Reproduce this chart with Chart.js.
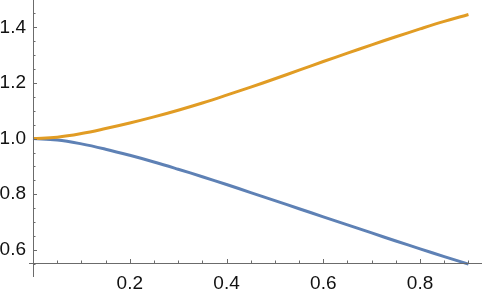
<!DOCTYPE html>
<html>
<head>
<meta charset="utf-8">
<script src="https://cdn.jsdelivr.net/npm/chart.js@4/dist/chart.umd.min.js"></script>
<style>
  html, body { margin: 0; padding: 0; background: #fff; }
  #wrap { width: 482px; height: 295px; }
</style>
</head>
<body>
<div id="wrap"><canvas id="myChart"></canvas></div>
<script>
var xValues = [0, 0.05, 0.1, 0.15, 0.2, 0.25, 0.3, 0.35, 0.4, 0.45, 0.5, 0.55, 0.6, 0.65, 0.7, 0.75, 0.8, 0.85, 0.9];
var upper = [1.000, 1.005, 1.018, 1.036, 1.056, 1.078, 1.102, 1.128, 1.156, 1.185, 1.215, 1.246, 1.277, 1.307, 1.337, 1.366, 1.394, 1.421, 1.446];
var lower = [1.000, 0.995, 0.981, 0.962, 0.940, 0.916, 0.890, 0.863, 0.835, 0.806, 0.777, 0.748, 0.719, 0.690, 0.661, 0.632, 0.604, 0.576, 0.549];
var xTicks = [0.2, 0.4, 0.6, 0.8];
var yTicks = [0.6, 0.8, 1.0, 1.2, 1.4];
var xMinor = [0.05, 0.1, 0.15, 0.25, 0.3, 0.35, 0.45, 0.5, 0.55, 0.65, 0.7, 0.75, 0.85, 0.9];
var yMinor = [0.55, 0.65, 0.7, 0.75, 0.85, 0.9, 0.95, 1.05, 1.1, 1.15, 1.25, 1.3, 1.35, 1.45];

function pts(ys) {
  return xValues.map(function (x, i) { return {x: x, y: ys[i]}; });
}

var axisColor = "#6b6b6b";

// mathematica style axes, ticks pointing inwards
var axesPlugin = {
  id: "axes",
  afterDatasetsDraw: function (chart) {
    var ctx = chart.ctx, xs = chart.scales.x, ys = chart.scales.y;
    var area = chart.chartArea;
    var x0 = xs.getPixelForValue(0), y0 = area.bottom;
    ctx.save();
    ctx.strokeStyle = axisColor;
    ctx.lineWidth = 1;
    ctx.beginPath();
    ctx.moveTo(x0 - 4, y0 + 0.5); ctx.lineTo(area.right, y0 + 0.5);
    ctx.moveTo(x0 + 0.5, area.top); ctx.lineTo(x0 + 0.5, y0 + 14);
    xTicks.forEach(function (v) { var p = Math.round(xs.getPixelForValue(v)) + 0.5; ctx.moveTo(p, y0); ctx.lineTo(p, y0 - 4); });
    xMinor.forEach(function (v) { var p = Math.round(xs.getPixelForValue(v)) + 0.5; ctx.moveTo(p, y0); ctx.lineTo(p, y0 - 2.5); });
    yTicks.forEach(function (v) { var p = Math.round(ys.getPixelForValue(v)) + 0.5; ctx.moveTo(x0, p); ctx.lineTo(x0 + 4, p); });
    yMinor.forEach(function (v) { var p = Math.round(ys.getPixelForValue(v)) + 0.5; ctx.moveTo(x0, p); ctx.lineTo(x0 + 2.5, p); });
    ctx.stroke();
    ctx.restore();
  }
};

new Chart("myChart", {
  type: "line",
  data: {
    datasets: [{
      data: pts(lower),
      borderColor: "#5e81b5",
      borderWidth: 3,
      pointRadius: 0,
      tension: 0.4,
      order: 2
    }, {
      data: pts(upper),
      borderColor: "#e19c24",
      borderWidth: 3,
      pointRadius: 0,
      tension: 0.4,
      order: 1
    }]
  },
  options: {
    responsive: true,
    maintainAspectRatio: false,
    animation: false,
    clip: false,
    layout: {padding: 0},
    plugins: {legend: {display: false}, tooltip: {enabled: false}},
    scales: {
      x: {
        type: "linear",
        min: 0,
        max: 0.928,
        grid: {display: false, drawTicks: false},
        border: {display: false},
        afterBuildTicks: function (s) { s.ticks = xTicks.map(function (v) { return {value: v}; }); },
        afterFit: function (s) { s.height = 32; s.paddingLeft = 0; s.paddingRight = 0; },
        ticks: {
          padding: 9,
          maxRotation: 0,
          autoSkip: false,
          color: "#111",
          font: {family: "Liberation Sans", size: 19},
          callback: function (v) { return v.toFixed(1); }
        }
      },
      y: {
        min: 0.553,
        max: 1.498,
        grid: {display: false, drawTicks: false},
        border: {display: false},
        afterBuildTicks: function (s) { s.ticks = yTicks.map(function (v) { return {value: v}; }); },
        afterFit: function (s) { s.width = 33; s.paddingTop = 0; s.paddingBottom = 0; },
        ticks: {
          padding: 7,
          autoSkip: false,
          color: "#111",
          font: {family: "Liberation Sans", size: 19},
          callback: function (v) { return v.toFixed(1); }
        }
      }
    }
  },
  plugins: [axesPlugin]
});
</script>
</body>
</html>
